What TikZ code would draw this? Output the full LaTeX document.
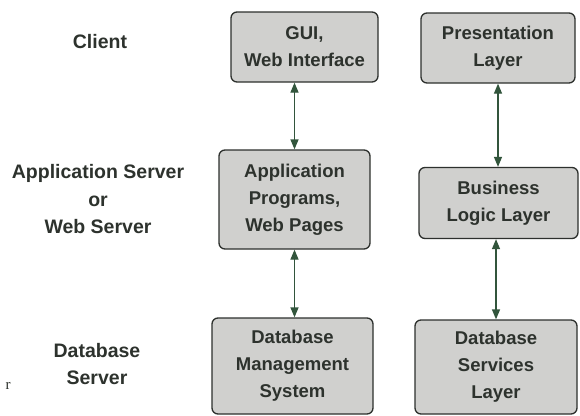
\documentclass[tikz,border=0pt]{standalone}
\usepackage{fontspec}
\setmainfont{Liberation Sans}
\newfontfamily\serifr{Liberation Serif}
\usetikzlibrary{arrows.meta}
\definecolor{boxfill}{RGB}{208,208,206}
\definecolor{boxline}{RGB}{45,48,45}
\definecolor{txt}{RGB}{45,50,45}
\definecolor{arrowc}{RGB}{50,85,60}
\begin{document}
\begin{tikzpicture}[x=1pt,y=-1pt,
  tier/.style={draw=boxline,line width=1.3pt,fill=boxfill,rounded corners=6pt,
    align=center,inner sep=0pt,text=txt,font=\bfseries\fontsize{18.5}{27}\selectfont},
  tierlabel/.style={align=center,text=txt,inner sep=0pt,font=\bfseries\fontsize{19.5}{27.5}\selectfont},
  link/.style={draw=arrowc,line width=1.3pt,{Triangle[length=10pt,width=8pt]}-{Triangle[length=10pt,width=8pt]}}]
\useasboundingbox (0,0) rectangle (580,415);
\fill[white] (0,0) rectangle (580,415);
% left labels
\node[tierlabel] (lclient) at (100,42) {Client};
\node[tierlabel] (lapp) at (98,199.5) {Application Server\\or\\Web Server};
\node[tierlabel] (ldb) at (97,364) {Database\\Server};
\node[text=txt,inner sep=0pt,font=\serifr\fontsize{15}{18}\selectfont] (stray) at (8,386) {r};
% left column boxes
\node[tier,minimum width=147pt,minimum height=70pt] (gui) at (304.5,47) {GUI,\\Web Interface};
\node[tier,minimum width=151pt,minimum height=99pt] (app) at (294.5,199.5) {Application\\Programs,\\Web Pages};
\node[tier,minimum width=161pt,minimum height=96pt] (dbms) at (292.5,366) {Database\\Management\\System};
% right column boxes
\node[tier,minimum width=154pt,minimum height=70pt] (pres) at (498,48) {Presentation\\Layer};
\node[tier,minimum width=159pt,minimum height=71pt] (bus) at (498.5,203) {Business\\Logic Layer};
\node[tier,minimum width=162pt,minimum height=94pt] (dbs) at (496,367) {Database\\Services\\Layer};
% connectors
\draw[link] (gui.south -| app.north) -- (app.north);
\draw[link] (app.south) -- (app.south |- dbms.north);
\draw[link] (pres.south) -- (pres.south |- bus.north);
\draw[link] (bus.south -| dbs.north) -- (dbs.north);
\end{tikzpicture}
\end{document}
